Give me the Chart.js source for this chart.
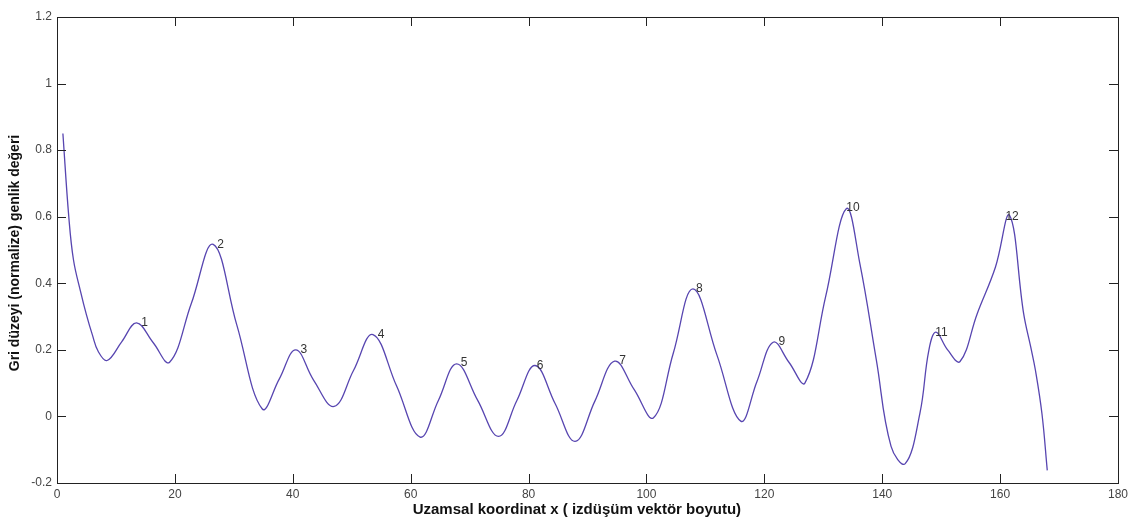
<!DOCTYPE html>
<html>
<head>
<meta charset="utf-8">
<script src="https://cdn.jsdelivr.net/npm/chart.js@4"></script>
<style>
  body { margin: 0; background: #fff; }
  canvas { display: block; }
</style>
</head>
<body>
<canvas id="grafik" width="1133" height="523"></canvas>
<script>
// konum (x) ve genlik degerleri
var konumX = [1, 2, 2.8, 4, 5, 6, 7, 8.5, 11, 13.5, 16.3, 19.1, 22.8, 26.5, 30.5, 34.8, 37.7, 40.5, 43.5,
    47, 50.3, 53.6, 57.6, 61.6, 64.7, 67.8, 71.35, 74.9, 78, 81.1, 84.5, 87.9, 91.25, 94.6, 97.9, 101.2,
    104.55, 107.9, 111.95, 116, 118.75, 121.5, 124.2, 126.9, 130.4, 133.9, 136.2, 139, 141.5,
    143.9, 146.4, 147.9, 149.1, 151.1, 153.2, 156.1, 159.2, 161.6, 164, 165.2, 166, 167.1, 168];
var genlik = [0.85, 0.6, 0.47, 0.375, 0.305, 0.245, 0.195, 0.168, 0.225, 0.281, 0.222, 0.163, 0.34,
    0.517, 0.275, 0.023, 0.112, 0.20, 0.11, 0.03, 0.138, 0.246, 0.092, -0.062, 0.048, 0.158, 0.049, -0.06,
    0.047, 0.153, 0.039, -0.075, 0.046, 0.166, 0.081, -0.004, 0.19, 0.383, 0.185, -0.014, 0.105, 0.223, 0.162,
    0.101, 0.36, 0.624, 0.46, 0.17, -0.09, -0.142, 0.01, 0.198, 0.253, 0.2, 0.165,
    0.308, 0.448, 0.604, 0.308, 0.208, 0.138, 0.008, -0.162];

// tepe etiketleri
var tepeNo = ['1', '2', '3', '4', '5', '6', '7', '8', '9', '10', '11', '12'];
var tepeX = [14.3, 27.2, 41.3, 54.4, 68.5, 81.4, 95.4, 108.4, 122.4, 133.9, 149.0, 160.9];
var tepeY = [0.282, 0.517, 0.20, 0.246, 0.16, 0.151, 0.166, 0.383, 0.226, 0.627, 0.253, 0.601];

var xTikler = [0, 20, 40, 60, 80, 100, 120, 140, 160, 180];
var yTikler = [-0.2, 0, 0.2, 0.4, 0.6, 0.8, 1, 1.2];

var xBaslik = 'Uzamsal koordinat x ( izdüşüm vektör boyutu)';
var yBaslik = 'Gri düzeyi (normalize) genlik değeri';

var noktalar = [];
for (var i = 0; i < konumX.length; i++) {
    noktalar.push({ x: konumX[i], y: genlik[i] });
}

var yaziTipi = '"Liberation Sans", Arial, sans-serif';

// ic tarafa bakan tik cizgileri, cerceve, eksen basliklari ve tepe numaralari
var cerceve = {
    id: 'cerceve',
    afterDatasetsDraw: function (chart) {
        var ctx = chart.ctx;
        var a = chart.chartArea;
        var sx = chart.scales.x, sy = chart.scales.y;
        var L = 9;
        ctx.save();
        ctx.strokeStyle = '#222';
        ctx.lineWidth = 1;
        ctx.beginPath();
        xTikler.forEach(function (t) {
            var px = Math.round(sx.getPixelForValue(t)) + 0.5;
            ctx.moveTo(px, a.bottom); ctx.lineTo(px, a.bottom - L);
            ctx.moveTo(px, a.top); ctx.lineTo(px, a.top + L);
        });
        yTikler.forEach(function (t) {
            var py = Math.round(sy.getPixelForValue(t)) + 0.5;
            ctx.moveTo(a.left, py); ctx.lineTo(a.left + L, py);
            ctx.moveTo(a.right, py); ctx.lineTo(a.right - L, py);
        });
        ctx.stroke();
        ctx.strokeRect(Math.round(a.left) + 0.5, Math.round(a.top) + 0.5,
            Math.round(a.right - a.left), Math.round(a.bottom - a.top));

        ctx.fillStyle = '#333';
        ctx.font = '12px ' + yaziTipi;
        ctx.textAlign = 'left';
        ctx.textBaseline = 'middle';
        for (var k = 0; k < tepeNo.length; k++) {
            ctx.fillText(tepeNo[k], sx.getPixelForValue(tepeX[k]), sy.getPixelForValue(tepeY[k]));
        }

        // eksen basliklari
        ctx.fillStyle = '#111';
        ctx.textAlign = 'center';
        ctx.font = 'bold 15px ' + yaziTipi;
        ctx.fillText(xBaslik, a.left + (a.right - a.left) * 0.49, a.bottom + 27);
        ctx.translate(15, (a.top + a.bottom) / 2 + 3);
        ctx.rotate(-Math.PI / 2);
        ctx.font = 'bold 14px ' + yaziTipi;
        ctx.fillText(yBaslik, 0, 0);
        ctx.restore();
    }
};

var config = {
    type: 'line',
    data: {
        datasets: [{
            data: noktalar,
            borderColor: '#5745b0',
            borderWidth: 1.3,
            pointRadius: 0,
            tension: 0.4,
            fill: false
        }]
    },
    options: {
        responsive: false,
        animation: false,
        devicePixelRatio: 1,
        layout: { padding: { top: 17, right: 15, left: 0, bottom: 0 } },
        plugins: { legend: { display: false }, tooltip: { enabled: false } },
        scales: {
            x: {
                type: 'linear',
                min: 0, max: 180,
                afterFit: function (s) { s.height = 40; },
                afterBuildTicks: function (s) { s.ticks = xTikler.map(function (v) { return { value: v }; }); },
                grid: { display: false, drawTicks: false },
                border: { display: false },
                ticks: { color: '#444', font: { family: yaziTipi, size: 12 }, padding: 4, maxRotation: 0 }
            },
            y: {
                min: -0.2, max: 1.2,
                afterFit: function (s) { s.width = 57; },
                afterBuildTicks: function (s) { s.ticks = yTikler.map(function (v) { return { value: v }; }); },
                grid: { display: false, drawTicks: false },
                border: { display: false },
                ticks: {
                    color: '#444', font: { family: yaziTipi, size: 12 }, padding: 5,
                    callback: function (v) { return String(Math.round(v * 10) / 10); }
                }
            }
        }
    },
    plugins: [cerceve]
};

var ctx = document.getElementById('grafik').getContext('2d');
var grafik = new Chart(ctx, config);
</script>
</body>
</html>
